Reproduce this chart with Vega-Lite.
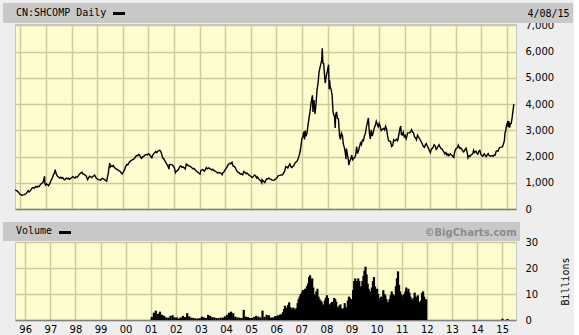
{
"$schema": "https://vega.github.io/schema/vega-lite/v6.json",
"background": "#eeeeee",
"padding": {"left": 2, "top": 2, "right": 0, "bottom": 2},
"spacing": 6,
"resolve": {"scale": {"color": "independent"}, "legend": {"color": "independent"}},
"config": {
  "view": {"fill": "#fdfdd0", "stroke": "#c4c4c4", "strokeWidth": 1},
  "axis": {"gridColor": "#cccc99", "gridWidth": 1.5, "gridOpacity": 1, "labelFont": "DejaVu Sans", "labelFontSize": 10, "labelColor": "#000000", "ticks": false, "tickSize": 0, "domain": false, "titleFont": "DejaVu Sans Mono", "titleFontSize": 10, "titleFontWeight": "normal", "titleColor": "#000000"},
  "legend": {"orient": "none", "fillColor": "#c8c8c8", "padding": 3, "titleOrient": "left", "titleFont": "DejaVu Sans Mono", "titleFontSize": 10, "titleFontWeight": "normal", "titleColor": "#000000", "titlePadding": 14.5, "symbolSize": 144, "symbolStrokeWidth": 3, "labelLimit": 400, "titleLimit": 300}
},
"vconcat": [
{
  "width": 501, "height": 185,
  "data": {"values": [
{"date":"1995-10-20","close":725},{"date":"1995-11-06","close":700},{"date":"1995-11-20","close":680},{"date":"1995-12-05","close":640},{"date":"1995-12-20","close":580},
{"date":"1996-01-08","close":545},{"date":"1996-01-22","close":520},{"date":"1996-02-05","close":530},{"date":"1996-02-26","close":545},{"date":"1996-03-11","close":570},{"date":"1996-03-25","close":590},{"date":"1996-04-08","close":640},{"date":"1996-04-22","close":700},{"date":"1996-05-06","close":650},{"date":"1996-05-20","close":690},{"date":"1996-06-03","close":740},{"date":"1996-06-17","close":800},{"date":"1996-07-01","close":820},{"date":"1996-07-15","close":790},{"date":"1996-07-29","close":830},{"date":"1996-08-12","close":860},{"date":"1996-08-26","close":830},{"date":"1996-09-09","close":870},{"date":"1996-09-23","close":850},{"date":"1996-10-07","close":900},{"date":"1996-10-21","close":950},{"date":"1996-11-04","close":980},{"date":"1996-11-18","close":1010},{"date":"1996-12-02","close":1130},{"date":"1996-12-11","close":1250},{"date":"1996-12-17","close":960},{"date":"1996-12-26","close":910},
{"date":"1997-01-09","close":960},{"date":"1997-01-23","close":920},{"date":"1997-02-06","close":890},{"date":"1997-02-20","close":950},{"date":"1997-03-06","close":1040},{"date":"1997-03-20","close":1120},{"date":"1997-04-03","close":1200},{"date":"1997-04-17","close":1300},{"date":"1997-05-02","close":1380},{"date":"1997-05-12","close":1500},{"date":"1997-05-22","close":1370},{"date":"1997-06-05","close":1290},{"date":"1997-06-19","close":1230},{"date":"1997-07-03","close":1210},{"date":"1997-07-17","close":1180},{"date":"1997-07-31","close":1210},{"date":"1997-08-14","close":1170},{"date":"1997-08-28","close":1200},{"date":"1997-09-11","close":1130},{"date":"1997-09-25","close":1110},{"date":"1997-10-09","close":1160},{"date":"1997-10-23","close":1180},{"date":"1997-11-06","close":1150},{"date":"1997-11-20","close":1170},{"date":"1997-12-04","close":1130},{"date":"1997-12-18","close":1160},
{"date":"1998-01-05","close":1200},{"date":"1998-01-19","close":1230},{"date":"1998-02-05","close":1200},{"date":"1998-02-19","close":1170},{"date":"1998-03-05","close":1230},{"date":"1998-03-19","close":1210},{"date":"1998-04-02","close":1250},{"date":"1998-04-16","close":1300},{"date":"1998-04-30","close":1340},{"date":"1998-05-14","close":1380},{"date":"1998-05-28","close":1400},{"date":"1998-06-11","close":1340},{"date":"1998-06-25","close":1330},{"date":"1998-07-09","close":1300},{"date":"1998-07-23","close":1280},{"date":"1998-08-06","close":1200},{"date":"1998-08-18","close":1120},{"date":"1998-09-01","close":1190},{"date":"1998-09-15","close":1250},{"date":"1998-09-29","close":1230},{"date":"1998-10-13","close":1200},{"date":"1998-10-27","close":1230},{"date":"1998-11-10","close":1260},{"date":"1998-11-24","close":1290},{"date":"1998-12-08","close":1230},{"date":"1998-12-22","close":1160},
{"date":"1999-01-06","close":1140},{"date":"1999-01-20","close":1120},{"date":"1999-02-03","close":1110},{"date":"1999-02-17","close":1100},{"date":"1999-03-03","close":1140},{"date":"1999-03-17","close":1170},{"date":"1999-03-31","close":1150},{"date":"1999-04-14","close":1120},{"date":"1999-04-28","close":1100},{"date":"1999-05-17","close":1060},{"date":"1999-05-26","close":1200},{"date":"1999-06-08","close":1350},{"date":"1999-06-18","close":1580},{"date":"1999-06-30","close":1750},{"date":"1999-07-09","close":1600},{"date":"1999-07-22","close":1640},{"date":"1999-08-05","close":1620},{"date":"1999-08-19","close":1660},{"date":"1999-09-02","close":1580},{"date":"1999-09-16","close":1560},{"date":"1999-09-30","close":1520},{"date":"1999-10-14","close":1500},{"date":"1999-10-28","close":1480},{"date":"1999-11-11","close":1450},{"date":"1999-11-25","close":1430},{"date":"1999-12-09","close":1380},{"date":"1999-12-27","close":1340},
{"date":"2000-01-10","close":1420},{"date":"2000-01-24","close":1480},{"date":"2000-02-14","close":1640},{"date":"2000-02-28","close":1700},{"date":"2000-03-13","close":1680},{"date":"2000-03-27","close":1760},{"date":"2000-04-10","close":1810},{"date":"2000-04-24","close":1830},{"date":"2000-05-08","close":1860},{"date":"2000-05-22","close":1880},{"date":"2000-06-05","close":1900},{"date":"2000-06-19","close":1940},{"date":"2000-07-03","close":2000},{"date":"2000-07-17","close":2040},{"date":"2000-07-31","close":2030},{"date":"2000-08-14","close":2080},{"date":"2000-08-28","close":2060},{"date":"2000-09-11","close":1970},{"date":"2000-09-25","close":1930},{"date":"2000-10-09","close":1990},{"date":"2000-10-23","close":2000},{"date":"2000-11-06","close":2040},{"date":"2000-11-20","close":2070},{"date":"2000-12-04","close":2080},{"date":"2000-12-18","close":2060},
{"date":"2001-01-02","close":2110},{"date":"2001-01-16","close":2080},{"date":"2001-02-05","close":2000},{"date":"2001-02-19","close":1950},{"date":"2001-03-05","close":2060},{"date":"2001-03-19","close":2110},{"date":"2001-04-02","close":2150},{"date":"2001-04-16","close":2190},{"date":"2001-04-30","close":2150},{"date":"2001-05-14","close":2200},{"date":"2001-05-28","close":2220},{"date":"2001-06-11","close":2240},{"date":"2001-06-25","close":2200},{"date":"2001-07-09","close":2100},{"date":"2001-07-23","close":1940},{"date":"2001-08-06","close":1920},{"date":"2001-08-20","close":1850},{"date":"2001-09-03","close":1790},{"date":"2001-09-17","close":1720},{"date":"2001-10-08","close":1620},{"date":"2001-10-22","close":1520},{"date":"2001-10-26","close":1690},{"date":"2001-11-09","close":1700},{"date":"2001-11-23","close":1690},{"date":"2001-12-07","close":1680},{"date":"2001-12-21","close":1640},
{"date":"2002-01-07","close":1560},{"date":"2002-01-22","close":1380},{"date":"2002-02-05","close":1440},{"date":"2002-02-26","close":1480},{"date":"2002-03-12","close":1550},{"date":"2002-03-26","close":1620},{"date":"2002-04-09","close":1640},{"date":"2002-04-23","close":1590},{"date":"2002-05-14","close":1600},{"date":"2002-05-28","close":1560},{"date":"2002-06-11","close":1520},{"date":"2002-06-24","close":1710},{"date":"2002-07-08","close":1690},{"date":"2002-07-22","close":1650},{"date":"2002-08-05","close":1640},{"date":"2002-08-19","close":1620},{"date":"2002-09-02","close":1600},{"date":"2002-09-16","close":1560},{"date":"2002-09-30","close":1530},{"date":"2002-10-14","close":1550},{"date":"2002-10-28","close":1500},{"date":"2002-11-11","close":1460},{"date":"2002-11-25","close":1420},{"date":"2002-12-09","close":1390},{"date":"2002-12-23","close":1360},
{"date":"2003-01-06","close":1330},{"date":"2003-01-20","close":1470},{"date":"2003-02-10","close":1500},{"date":"2003-02-24","close":1480},{"date":"2003-03-10","close":1440},{"date":"2003-03-24","close":1500},{"date":"2003-04-07","close":1580},{"date":"2003-04-21","close":1530},{"date":"2003-05-12","close":1570},{"date":"2003-05-26","close":1540},{"date":"2003-06-09","close":1520},{"date":"2003-06-23","close":1490},{"date":"2003-07-07","close":1510},{"date":"2003-07-21","close":1480},{"date":"2003-08-04","close":1450},{"date":"2003-08-18","close":1430},{"date":"2003-09-01","close":1400},{"date":"2003-09-15","close":1370},{"date":"2003-09-29","close":1400},{"date":"2003-10-13","close":1380},{"date":"2003-10-27","close":1370},{"date":"2003-11-10","close":1350},{"date":"2003-11-18","close":1310},{"date":"2003-12-02","close":1390},{"date":"2003-12-16","close":1420},{"date":"2003-12-30","close":1490},
{"date":"2004-01-13","close":1550},{"date":"2004-01-27","close":1600},{"date":"2004-02-10","close":1680},{"date":"2004-02-24","close":1720},{"date":"2004-03-09","close":1740},{"date":"2004-03-23","close":1730},{"date":"2004-04-07","close":1780},{"date":"2004-04-21","close":1640},{"date":"2004-05-11","close":1620},{"date":"2004-05-25","close":1570},{"date":"2004-06-08","close":1480},{"date":"2004-06-22","close":1420},{"date":"2004-07-06","close":1400},{"date":"2004-07-20","close":1380},{"date":"2004-08-03","close":1330},{"date":"2004-08-17","close":1340},{"date":"2004-09-07","close":1300},{"date":"2004-09-21","close":1430},{"date":"2004-10-12","close":1380},{"date":"2004-10-26","close":1340},{"date":"2004-11-09","close":1370},{"date":"2004-11-23","close":1320},{"date":"2004-12-07","close":1290},{"date":"2004-12-21","close":1260},
{"date":"2005-01-05","close":1240},{"date":"2005-01-19","close":1200},{"date":"2005-02-02","close":1230},{"date":"2005-02-23","close":1300},{"date":"2005-03-09","close":1270},{"date":"2005-03-23","close":1180},{"date":"2005-04-06","close":1220},{"date":"2005-04-20","close":1150},{"date":"2005-05-11","close":1100},{"date":"2005-05-25","close":1060},{"date":"2005-06-06","close":1000},{"date":"2005-06-09","close":1120},{"date":"2005-06-23","close":1080},{"date":"2005-07-07","close":1040},{"date":"2005-07-19","close":1010},{"date":"2005-08-02","close":1100},{"date":"2005-08-16","close":1150},{"date":"2005-08-30","close":1140},{"date":"2005-09-13","close":1180},{"date":"2005-09-27","close":1150},{"date":"2005-10-18","close":1130},{"date":"2005-11-01","close":1100},{"date":"2005-11-15","close":1090},{"date":"2005-11-29","close":1100},{"date":"2005-12-13","close":1130},{"date":"2005-12-27","close":1160},
{"date":"2006-01-10","close":1200},{"date":"2006-01-24","close":1260},{"date":"2006-02-14","close":1280},{"date":"2006-02-28","close":1300},{"date":"2006-03-14","close":1290},{"date":"2006-03-28","close":1300},{"date":"2006-04-11","close":1370},{"date":"2006-04-25","close":1420},{"date":"2006-05-15","close":1620},{"date":"2006-05-29","close":1600},{"date":"2006-06-12","close":1560},{"date":"2006-06-26","close":1650},{"date":"2006-07-11","close":1720},{"date":"2006-07-25","close":1610},{"date":"2006-08-08","close":1580},{"date":"2006-08-22","close":1620},{"date":"2006-09-05","close":1650},{"date":"2006-09-19","close":1740},{"date":"2006-10-10","close":1800},{"date":"2006-10-24","close":1830},{"date":"2006-11-07","close":1920},{"date":"2006-11-21","close":2050},{"date":"2006-12-05","close":2200},{"date":"2006-12-19","close":2450},{"date":"2006-12-29","close":2680},
{"date":"2007-01-12","close":2750},{"date":"2007-01-26","close":2950},{"date":"2007-02-05","close":2650},{"date":"2007-02-16","close":2990},{"date":"2007-02-27","close":2770},{"date":"2007-03-13","close":2900},{"date":"2007-03-27","close":3200},{"date":"2007-04-10","close":3450},{"date":"2007-04-24","close":3700},{"date":"2007-05-10","close":4050},{"date":"2007-05-29","close":4330},{"date":"2007-06-05","close":3700},{"date":"2007-06-20","close":4150},{"date":"2007-07-05","close":3620},{"date":"2007-07-20","close":4050},{"date":"2007-08-03","close":4550},{"date":"2007-08-17","close":4800},{"date":"2007-08-31","close":5220},{"date":"2007-09-14","close":5400},{"date":"2007-09-28","close":5550},{"date":"2007-10-09","close":5700},{"date":"2007-10-16","close":6120},{"date":"2007-10-25","close":5560},{"date":"2007-11-06","close":5540},{"date":"2007-11-20","close":5000},{"date":"2007-11-28","close":4800},{"date":"2007-12-11","close":5050},{"date":"2007-12-28","close":5260},
{"date":"2008-01-14","close":5500},{"date":"2008-01-22","close":4560},{"date":"2008-01-29","close":4900},{"date":"2008-02-05","close":4670},{"date":"2008-02-20","close":4550},{"date":"2008-03-04","close":4350},{"date":"2008-03-18","close":3700},{"date":"2008-03-27","close":3600},{"date":"2008-04-08","close":3500},{"date":"2008-04-18","close":3090},{"date":"2008-04-24","close":3580},{"date":"2008-05-06","close":3700},{"date":"2008-05-20","close":3450},{"date":"2008-06-03","close":3430},{"date":"2008-06-18","close":2800},{"date":"2008-07-01","close":2650},{"date":"2008-07-15","close":2890},{"date":"2008-07-29","close":2800},{"date":"2008-08-12","close":2470},{"date":"2008-08-26","close":2340},{"date":"2008-09-09","close":2140},{"date":"2008-09-18","close":1900},{"date":"2008-09-25","close":2300},{"date":"2008-10-09","close":2070},{"date":"2008-10-21","close":1900},{"date":"2008-10-28","close":1670},{"date":"2008-11-11","close":1820},{"date":"2008-11-25","close":1900},{"date":"2008-12-09","close":2050},{"date":"2008-12-23","close":1880},
{"date":"2009-01-06","close":1940},{"date":"2009-01-20","close":1950},{"date":"2009-02-03","close":2050},{"date":"2009-02-17","close":2380},{"date":"2009-03-02","close":2110},{"date":"2009-03-16","close":2220},{"date":"2009-03-30","close":2370},{"date":"2009-04-13","close":2520},{"date":"2009-04-27","close":2450},{"date":"2009-05-11","close":2630},{"date":"2009-05-25","close":2600},{"date":"2009-06-08","close":2780},{"date":"2009-06-22","close":2880},{"date":"2009-07-06","close":3120},{"date":"2009-07-20","close":3280},{"date":"2009-08-04","close":3470},{"date":"2009-08-12","close":3110},{"date":"2009-08-19","close":2880},{"date":"2009-08-31","close":2670},{"date":"2009-09-14","close":3020},{"date":"2009-09-28","close":2780},{"date":"2009-10-12","close":2910},{"date":"2009-10-26","close":3090},{"date":"2009-11-09","close":3170},{"date":"2009-11-24","close":3340},{"date":"2009-12-08","close":3230},{"date":"2009-12-22","close":3130},
{"date":"2010-01-05","close":3260},{"date":"2010-01-19","close":3150},{"date":"2010-02-02","close":2990},{"date":"2010-02-23","close":3050},{"date":"2010-03-09","close":3070},{"date":"2010-03-23","close":3010},{"date":"2010-04-06","close":3150},{"date":"2010-04-20","close":3050},{"date":"2010-05-04","close":2800},{"date":"2010-05-18","close":2600},{"date":"2010-06-01","close":2590},{"date":"2010-06-15","close":2570},{"date":"2010-07-02","close":2380},{"date":"2010-07-16","close":2420},{"date":"2010-07-30","close":2640},{"date":"2010-08-13","close":2600},{"date":"2010-08-27","close":2610},{"date":"2010-09-10","close":2660},{"date":"2010-09-24","close":2600},{"date":"2010-10-12","close":2820},{"date":"2010-10-26","close":3050},{"date":"2010-11-08","close":3160},{"date":"2010-11-17","close":2840},{"date":"2010-11-30","close":2820},{"date":"2010-12-14","close":2930},{"date":"2010-12-28","close":2750},
{"date":"2011-01-11","close":2800},{"date":"2011-01-25","close":2680},{"date":"2011-02-15","close":2900},{"date":"2011-03-01","close":2900},{"date":"2011-03-15","close":2900},{"date":"2011-03-29","close":2940},{"date":"2011-04-12","close":3020},{"date":"2011-04-26","close":2930},{"date":"2011-05-10","close":2900},{"date":"2011-05-24","close":2740},{"date":"2011-06-07","close":2720},{"date":"2011-06-21","close":2640},{"date":"2011-07-05","close":2820},{"date":"2011-07-19","close":2760},{"date":"2011-08-02","close":2680},{"date":"2011-08-16","close":2620},{"date":"2011-08-30","close":2550},{"date":"2011-09-13","close":2470},{"date":"2011-09-27","close":2380},{"date":"2011-10-11","close":2350},{"date":"2011-10-25","close":2440},{"date":"2011-11-08","close":2490},{"date":"2011-11-22","close":2400},{"date":"2011-12-06","close":2330},{"date":"2011-12-20","close":2230},
{"date":"2012-01-05","close":2150},{"date":"2012-01-19","close":2280},{"date":"2012-02-09","close":2330},{"date":"2012-02-27","close":2450},{"date":"2012-03-13","close":2410},{"date":"2012-03-27","close":2270},{"date":"2012-04-10","close":2310},{"date":"2012-04-24","close":2390},{"date":"2012-05-07","close":2450},{"date":"2012-05-22","close":2370},{"date":"2012-06-05","close":2300},{"date":"2012-06-19","close":2290},{"date":"2012-07-03","close":2220},{"date":"2012-07-17","close":2170},{"date":"2012-07-31","close":2100},{"date":"2012-08-14","close":2150},{"date":"2012-08-28","close":2050},{"date":"2012-09-11","close":2100},{"date":"2012-09-25","close":2030},{"date":"2012-10-16","close":2100},{"date":"2012-10-30","close":2060},{"date":"2012-11-13","close":2030},{"date":"2012-11-27","close":1980},{"date":"2012-12-04","close":1960},{"date":"2012-12-14","close":2150},{"date":"2012-12-28","close":2270},
{"date":"2013-01-14","close":2310},{"date":"2013-01-28","close":2360},{"date":"2013-02-06","close":2430},{"date":"2013-02-26","close":2310},{"date":"2013-03-12","close":2330},{"date":"2013-03-26","close":2280},{"date":"2013-04-09","close":2220},{"date":"2013-04-23","close":2180},{"date":"2013-05-07","close":2230},{"date":"2013-05-28","close":2320},{"date":"2013-06-13","close":2160},{"date":"2013-06-25","close":1950},{"date":"2013-07-09","close":2030},{"date":"2013-07-23","close":2000},{"date":"2013-08-06","close":2060},{"date":"2013-08-20","close":2080},{"date":"2013-09-03","close":2120},{"date":"2013-09-12","close":2240},{"date":"2013-09-26","close":2150},{"date":"2013-10-15","close":2200},{"date":"2013-10-29","close":2130},{"date":"2013-11-12","close":2090},{"date":"2013-11-26","close":2200},{"date":"2013-12-10","close":2230},{"date":"2013-12-24","close":2090},
{"date":"2014-01-07","close":2040},{"date":"2014-01-21","close":2010},{"date":"2014-02-11","close":2100},{"date":"2014-02-25","close":2040},{"date":"2014-03-11","close":1990},{"date":"2014-03-25","close":2060},{"date":"2014-04-08","close":2110},{"date":"2014-04-22","close":2040},{"date":"2014-05-08","close":2010},{"date":"2014-05-22","close":2030},{"date":"2014-06-05","close":2030},{"date":"2014-06-19","close":2010},{"date":"2014-07-03","close":2060},{"date":"2014-07-17","close":2050},{"date":"2014-07-31","close":2200},{"date":"2014-08-14","close":2220},{"date":"2014-08-28","close":2200},{"date":"2014-09-11","close":2320},{"date":"2014-09-25","close":2350},{"date":"2014-10-14","close":2360},{"date":"2014-10-28","close":2370},{"date":"2014-11-11","close":2470},{"date":"2014-11-25","close":2600},{"date":"2014-12-05","close":2930},{"date":"2014-12-12","close":2940},{"date":"2014-12-22","close":3130},{"date":"2014-12-31","close":3230},
{"date":"2015-01-09","close":3290},{"date":"2015-01-19","close":3120},{"date":"2015-01-28","close":3350},{"date":"2015-02-09","close":3100},{"date":"2015-02-17","close":3250},{"date":"2015-03-03","close":3260},{"date":"2015-03-17","close":3500},{"date":"2015-03-30","close":3790},{"date":"2015-04-03","close":3860},{"date":"2015-04-08","close":3995}
  ]},
  "mark": {"type": "line", "strokeWidth": 1.4, "color": "#000000"},
  "encoding": {
    "x": {"field": "date", "type": "temporal", "scale": {"type": "utc", "domain": [{"year": 1995, "month": 10, "date": 17, "utc": true}, {"year": 2015, "month": 5, "date": 10, "utc": true}]}, "axis": {"labels": false, "grid": true, "tickCount": {"interval": "year", "step": 1}, "domain": true, "domainColor": "#808080", "domainWidth": 1.5, "title": null}},
    "y": {"field": "close", "type": "quantitative", "scale": {"domain": [0, 7050], "nice": false}, "axis": {"orient": "right", "values": [0, 1000, 2000, 3000, 4000, 5000, 6000, 7000], "format": ",d", "labelPadding": 9, "title": null, "grid": true}},
    "color": {"datum": "4/08/15\u00a0", "scale": {"range": ["#000000"]}, "legend": {"title": "CN:SHCOMP Daily", "legendX": -12, "legendY": -21, "labelOffset": 401, "labelFont": "DejaVu Sans Mono", "labelFontSize": 10, "labelColor": "#000000", "symbolType": "stroke", "encode": {"title": {"update": {"dx": {"value": 10}}}}}}
  }
},
{
  "width": 501, "height": 78,
  "data": {"values": [
{"date":"2001-01-15","volume":1.2},{"date":"2001-02-15","volume":2.8},{"date":"2001-03-15","volume":3.6},{"date":"2001-04-15","volume":2.4},{"date":"2001-05-15","volume":3.2},{"date":"2001-06-15","volume":2.0},{"date":"2001-07-15","volume":1.6},{"date":"2001-08-15","volume":1.0},{"date":"2001-09-15","volume":0.9},{"date":"2001-10-15","volume":1.6},{"date":"2001-11-15","volume":1.8},{"date":"2001-12-15","volume":1.0},
{"date":"2002-01-15","volume":1.0},{"date":"2002-02-15","volume":0.6},{"date":"2002-03-15","volume":1.0},{"date":"2002-04-15","volume":1.6},{"date":"2002-05-15","volume":1.1},{"date":"2002-06-15","volume":2.6},{"date":"2002-07-15","volume":1.4},{"date":"2002-08-15","volume":0.9},{"date":"2002-09-15","volume":0.8},{"date":"2002-10-15","volume":0.6},{"date":"2002-11-15","volume":0.6},{"date":"2002-12-15","volume":0.7},
{"date":"2003-01-15","volume":1.3},{"date":"2003-02-15","volume":1.0},{"date":"2003-03-15","volume":0.8},{"date":"2003-04-15","volume":2.0},{"date":"2003-05-15","volume":1.6},{"date":"2003-06-15","volume":1.1},{"date":"2003-07-15","volume":1.0},{"date":"2003-08-15","volume":0.8},{"date":"2003-09-15","volume":0.7},{"date":"2003-10-15","volume":0.9},{"date":"2003-11-15","volume":0.9},{"date":"2003-12-15","volume":1.4},
{"date":"2004-01-15","volume":2.0},{"date":"2004-02-15","volume":2.8},{"date":"2004-03-15","volume":3.2},{"date":"2004-04-15","volume":2.6},{"date":"2004-05-15","volume":1.3},{"date":"2004-06-15","volume":1.0},{"date":"2004-07-15","volume":0.9},{"date":"2004-08-15","volume":0.8},{"date":"2004-09-15","volume":3.9},{"date":"2004-10-15","volume":1.3},{"date":"2004-11-15","volume":1.1},{"date":"2004-12-15","volume":0.8},
{"date":"2005-01-15","volume":0.8},{"date":"2005-02-15","volume":1.2},{"date":"2005-03-15","volume":1.6},{"date":"2005-04-15","volume":1.3},{"date":"2005-05-15","volume":1.0},{"date":"2005-06-15","volume":3.6},{"date":"2005-07-15","volume":1.2},{"date":"2005-08-15","volume":2.0},{"date":"2005-09-15","volume":1.8},{"date":"2005-10-15","volume":1.0},{"date":"2005-11-15","volume":1.0},{"date":"2005-12-15","volume":1.5},
{"date":"2006-01-08","volume":1.4},{"date":"2006-01-23","volume":1.8},{"date":"2006-02-08","volume":1.6},{"date":"2006-02-23","volume":2.0},{"date":"2006-03-08","volume":2.2},{"date":"2006-03-23","volume":2.0},{"date":"2006-04-08","volume":3.0},{"date":"2006-04-23","volume":4.2},{"date":"2006-05-08","volume":5.5},{"date":"2006-05-23","volume":4.8},{"date":"2006-06-08","volume":4.5},{"date":"2006-06-23","volume":5.8},{"date":"2006-07-08","volume":6.8},{"date":"2006-07-23","volume":5.0},{"date":"2006-08-08","volume":4.0},{"date":"2006-08-23","volume":4.5},{"date":"2006-09-08","volume":4.8},{"date":"2006-09-23","volume":4.2},{"date":"2006-10-08","volume":3.8},{"date":"2006-10-23","volume":4.6},{"date":"2006-11-08","volume":6.5},{"date":"2006-11-23","volume":8.0},{"date":"2006-12-08","volume":9.0},{"date":"2006-12-23","volume":10.0},
{"date":"2007-01-08","volume":10.5},{"date":"2007-01-23","volume":11.5},{"date":"2007-02-08","volume":9.5},{"date":"2007-02-23","volume":12.0},{"date":"2007-03-08","volume":11.5},{"date":"2007-03-23","volume":13.0},{"date":"2007-04-08","volume":14.0},{"date":"2007-04-23","volume":16.5},{"date":"2007-05-08","volume":17.2},{"date":"2007-05-23","volume":15.0},{"date":"2007-06-08","volume":16.0},{"date":"2007-06-23","volume":12.5},{"date":"2007-07-08","volume":10.0},{"date":"2007-07-23","volume":9.5},{"date":"2007-08-08","volume":11.0},{"date":"2007-08-23","volume":12.0},{"date":"2007-09-08","volume":9.0},{"date":"2007-09-23","volume":8.0},{"date":"2007-10-08","volume":7.5},{"date":"2007-10-23","volume":7.0},{"date":"2007-11-08","volume":6.0},{"date":"2007-11-23","volume":5.5},{"date":"2007-12-08","volume":7.5},{"date":"2007-12-23","volume":8.5},
{"date":"2008-01-08","volume":9.5},{"date":"2008-01-23","volume":8.5},{"date":"2008-02-08","volume":5.5},{"date":"2008-02-23","volume":6.0},{"date":"2008-03-08","volume":6.5},{"date":"2008-03-23","volume":7.0},{"date":"2008-04-08","volume":5.5},{"date":"2008-04-23","volume":8.5},{"date":"2008-05-08","volume":8.0},{"date":"2008-05-23","volume":7.0},{"date":"2008-06-08","volume":5.0},{"date":"2008-06-23","volume":4.5},{"date":"2008-07-08","volume":5.5},{"date":"2008-07-23","volume":6.0},{"date":"2008-08-08","volume":4.5},{"date":"2008-08-23","volume":4.0},{"date":"2008-09-08","volume":4.5},{"date":"2008-09-23","volume":6.5},{"date":"2008-10-08","volume":5.0},{"date":"2008-10-23","volume":4.5},{"date":"2008-11-08","volume":7.5},{"date":"2008-11-23","volume":9.0},{"date":"2008-12-08","volume":8.5},{"date":"2008-12-23","volume":7.5},
{"date":"2009-01-08","volume":8.0},{"date":"2009-01-23","volume":11.5},{"date":"2009-02-08","volume":15.0},{"date":"2009-02-23","volume":16.0},{"date":"2009-03-08","volume":13.5},{"date":"2009-03-23","volume":15.0},{"date":"2009-04-08","volume":16.0},{"date":"2009-04-23","volume":15.0},{"date":"2009-05-08","volume":12.5},{"date":"2009-05-23","volume":13.0},{"date":"2009-06-08","volume":15.0},{"date":"2009-06-23","volume":17.0},{"date":"2009-07-08","volume":19.0},{"date":"2009-07-23","volume":20.5},{"date":"2009-08-08","volume":17.5},{"date":"2009-08-23","volume":14.0},{"date":"2009-09-08","volume":12.0},{"date":"2009-09-23","volume":11.0},{"date":"2009-10-08","volume":10.0},{"date":"2009-10-23","volume":12.5},{"date":"2009-11-08","volume":15.0},{"date":"2009-11-23","volume":16.5},{"date":"2009-12-08","volume":13.0},{"date":"2009-12-23","volume":11.0},
{"date":"2010-01-08","volume":12.0},{"date":"2010-01-23","volume":10.0},{"date":"2010-02-08","volume":7.5},{"date":"2010-02-23","volume":8.5},{"date":"2010-03-08","volume":9.0},{"date":"2010-03-23","volume":8.0},{"date":"2010-04-08","volume":11.5},{"date":"2010-04-23","volume":10.0},{"date":"2010-05-08","volume":9.5},{"date":"2010-05-23","volume":8.0},{"date":"2010-06-08","volume":6.5},{"date":"2010-06-23","volume":7.0},{"date":"2010-07-08","volume":8.0},{"date":"2010-07-23","volume":9.5},{"date":"2010-08-08","volume":11.0},{"date":"2010-08-23","volume":10.0},{"date":"2010-09-08","volume":9.5},{"date":"2010-09-23","volume":8.5},{"date":"2010-10-08","volume":13.0},{"date":"2010-10-23","volume":16.0},{"date":"2010-11-08","volume":18.7},{"date":"2010-11-23","volume":13.5},{"date":"2010-12-08","volume":11.0},{"date":"2010-12-23","volume":10.0},
{"date":"2011-01-08","volume":8.0},{"date":"2011-01-23","volume":9.5},{"date":"2011-02-08","volume":10.0},{"date":"2011-02-23","volume":11.0},{"date":"2011-03-08","volume":12.5},{"date":"2011-03-23","volume":11.0},{"date":"2011-04-08","volume":12.0},{"date":"2011-04-23","volume":10.5},{"date":"2011-05-08","volume":9.0},{"date":"2011-05-23","volume":8.0},{"date":"2011-06-08","volume":7.5},{"date":"2011-06-23","volume":8.5},{"date":"2011-07-08","volume":10.5},{"date":"2011-07-23","volume":9.0},{"date":"2011-08-08","volume":8.5},{"date":"2011-08-23","volume":9.5},{"date":"2011-09-08","volume":6.5},{"date":"2011-09-23","volume":7.0},{"date":"2011-10-08","volume":7.5},{"date":"2011-10-23","volume":10.5},{"date":"2011-11-08","volume":11.0},{"date":"2011-11-23","volume":9.0},{"date":"2011-12-08","volume":7.5},{"date":"2011-12-23","volume":8.0},
{"date":"2015-01-06","volume":0.5},{"date":"2015-03-20","volume":0.4}
  ]},
  "mark": {"type": "bar", "size": 2.2, "color": "#000000"},
  "encoding": {
    "x": {"field": "date", "type": "temporal", "scale": {"type": "utc", "domain": [{"year": 1995, "month": 10, "date": 17, "utc": true}, {"year": 2015, "month": 5, "date": 10, "utc": true}]}, "axis": {"format": "%y", "tickCount": {"interval": "year", "step": 1}, "labelOverlap": false, "labelFlush": false, "labelPadding": 4, "grid": true, "domain": true, "domainColor": "#808080", "domainWidth": 1.5, "title": null}},
    "y": {"field": "volume", "type": "quantitative", "stack": null, "scale": {"domain": [0, 30], "nice": false}, "axis": {"orient": "right", "values": [0, 10, 20, 30], "format": "d", "labelPadding": 9, "title": "Billions", "titleAngle": 270, "titlePadding": 33}},
    "color": {"datum": "©BigCharts.com\u2003\u2003\u2003\u2003\u2003\u2002", "scale": {"range": ["#000000"]}, "legend": {"title": "Volume", "legendX": -12, "legendY": -20, "labelOffset": 352, "labelFont": "DejaVu Sans", "labelFontWeight": "bold", "labelFontSize": 10, "labelColor": "#8c8c8c", "symbolType": "M-1,-0.25H1V0.25H-1Z", "encode": {"title": {"update": {"dx": {"value": 10}}}}}}
  }
}
]
}
